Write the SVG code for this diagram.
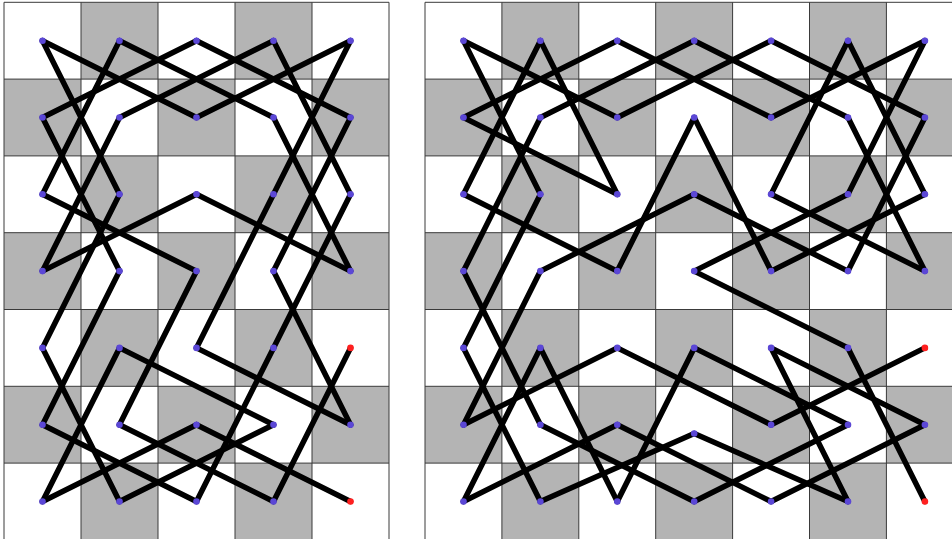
<svg xmlns="http://www.w3.org/2000/svg" width="952" height="539" viewBox="0 0 952 539">
<style>
.sq{fill:#b4b4b4}
.gl{stroke:#3a3a3a;stroke-width:1;fill:none}
.e{stroke:#000;stroke-width:5.5;stroke-linecap:round}
.d{fill:#5b47d6}
.s{fill:#ff1f1f}
</style>
<defs>
<rect id="cl" width="77" height="76.8" class="sq"/>
<rect id="cr" width="76.9" height="76.8" class="sq"/>
</defs>
<rect x="0" y="0" width="952" height="539" fill="#fff"/>
<g id="board-left">
<use href="#cl" x="81" y="2.3"/><use href="#cl" x="235" y="2.3"/>
<use href="#cl" x="4" y="79.1"/><use href="#cl" x="158" y="79.1"/><use href="#cl" x="312" y="79.1"/>
<use href="#cl" x="81" y="155.9"/><use href="#cl" x="235" y="155.9"/>
<use href="#cl" x="4" y="232.7"/><use href="#cl" x="158" y="232.7"/><use href="#cl" x="312" y="232.7"/>
<use href="#cl" x="81" y="309.5"/><use href="#cl" x="235" y="309.5"/>
<use href="#cl" x="4" y="386.3"/><use href="#cl" x="158" y="386.3"/><use href="#cl" x="312" y="386.3"/>
<use href="#cl" x="81" y="463.1"/><use href="#cl" x="235" y="463.1"/>
<path class="gl" d="M4 2.3V540M81 2.3V540M158 2.3V540M235 2.3V540M312 2.3V540M389 2.3V540M4 2.3H389M4 79.1H389M4 155.9H389M4 232.7H389M4 309.5H389M4 386.3H389M4 463.1H389"/>
</g>
<g id="board-right">
<use href="#cr" x="501.9" y="2.3"/><use href="#cr" x="655.7" y="2.3"/><use href="#cr" x="809.5" y="2.3"/>
<use href="#cr" x="425" y="79.1"/><use href="#cr" x="578.8" y="79.1"/><use href="#cr" x="732.6" y="79.1"/><use href="#cr" x="886.4" y="79.1"/>
<use href="#cr" x="501.9" y="155.9"/><use href="#cr" x="655.7" y="155.9"/><use href="#cr" x="809.5" y="155.9"/>
<use href="#cr" x="425" y="232.7"/><use href="#cr" x="578.8" y="232.7"/><use href="#cr" x="732.6" y="232.7"/><use href="#cr" x="886.4" y="232.7"/>
<use href="#cr" x="501.9" y="309.5"/><use href="#cr" x="655.7" y="309.5"/><use href="#cr" x="809.5" y="309.5"/>
<use href="#cr" x="425" y="386.3"/><use href="#cr" x="578.8" y="386.3"/><use href="#cr" x="732.6" y="386.3"/><use href="#cr" x="886.4" y="386.3"/>
<use href="#cr" x="501.9" y="463.1"/><use href="#cr" x="655.7" y="463.1"/><use href="#cr" x="809.5" y="463.1"/>
<path class="gl" d="M425 2.3V540M501.9 2.3V540M578.8 2.3V540M655.7 2.3V540M732.6 2.3V540M809.5 2.3V540M886.4 2.3V540M425 2.3H963M425 79.1H963M425 155.9H963M425 232.7H963M425 309.5H963M425 386.3H963M425 463.1H963"/>
</g>
<g id="connectors">
<line class="e" x1="350.5" y1="347.9" x2="273.5" y2="501.5"/>
<line class="e" x1="273.5" y1="501.5" x2="119.5" y2="424.7"/>
<line class="e" x1="119.5" y1="424.7" x2="196.5" y2="271.1"/>
<line class="e" x1="196.5" y1="271.1" x2="42.5" y2="194.3"/>
<line class="e" x1="42.5" y1="194.3" x2="119.5" y2="40.7"/>
<line class="e" x1="119.5" y1="40.7" x2="273.5" y2="117.5"/>
<line class="e" x1="273.5" y1="117.5" x2="350.5" y2="271.1"/>
<line class="e" x1="350.5" y1="271.1" x2="196.5" y2="194.3"/>
<line class="e" x1="196.5" y1="194.3" x2="42.5" y2="271.1"/>
<line class="e" x1="42.5" y1="271.1" x2="119.5" y2="117.5"/>
<line class="e" x1="119.5" y1="117.5" x2="273.5" y2="40.7"/>
<line class="e" x1="273.5" y1="40.7" x2="350.5" y2="194.3"/>
<line class="e" x1="350.5" y1="194.3" x2="273.5" y2="347.9"/>
<line class="e" x1="273.5" y1="347.9" x2="196.5" y2="501.5"/>
<line class="e" x1="196.5" y1="501.5" x2="42.5" y2="424.7"/>
<line class="e" x1="42.5" y1="424.7" x2="119.5" y2="271.1"/>
<line class="e" x1="119.5" y1="271.1" x2="42.5" y2="117.5"/>
<line class="e" x1="42.5" y1="117.5" x2="196.5" y2="40.7"/>
<line class="e" x1="196.5" y1="40.7" x2="350.5" y2="117.5"/>
<line class="e" x1="350.5" y1="117.5" x2="273.5" y2="271.1"/>
<line class="e" x1="273.5" y1="271.1" x2="350.5" y2="424.7"/>
<line class="e" x1="350.5" y1="424.7" x2="196.5" y2="347.9"/>
<line class="e" x1="196.5" y1="347.9" x2="273.5" y2="194.3"/>
<line class="e" x1="273.5" y1="194.3" x2="350.5" y2="40.7"/>
<line class="e" x1="350.5" y1="40.7" x2="196.5" y2="117.5"/>
<line class="e" x1="196.5" y1="117.5" x2="42.5" y2="40.7"/>
<line class="e" x1="42.5" y1="40.7" x2="119.5" y2="194.3"/>
<line class="e" x1="119.5" y1="194.3" x2="42.5" y2="347.9"/>
<line class="e" x1="42.5" y1="347.9" x2="119.5" y2="501.5"/>
<line class="e" x1="119.5" y1="501.5" x2="273.5" y2="424.7"/>
<line class="e" x1="273.5" y1="424.7" x2="119.5" y2="347.9"/>
<line class="e" x1="119.5" y1="347.9" x2="42.5" y2="501.5"/>
<line class="e" x1="42.5" y1="501.5" x2="196.5" y2="424.7"/>
<line class="e" x1="196.5" y1="424.7" x2="350.5" y2="501.5"/>

<line class="e" x1="924.9" y1="347.9" x2="771.1" y2="424.7"/>
<line class="e" x1="771.1" y1="424.7" x2="617.3" y2="347.9"/>
<line class="e" x1="617.3" y1="347.9" x2="463.5" y2="424.7"/>
<line class="e" x1="463.5" y1="424.7" x2="540.4" y2="271.1"/>
<line class="e" x1="540.4" y1="271.1" x2="694.2" y2="194.3"/>
<line class="e" x1="694.2" y1="194.3" x2="848" y2="271.1"/>
<line class="e" x1="848" y1="271.1" x2="924.9" y2="117.5"/>
<line class="e" x1="924.9" y1="117.5" x2="771.1" y2="40.7"/>
<line class="e" x1="771.1" y1="40.7" x2="617.3" y2="117.5"/>
<line class="e" x1="617.3" y1="117.5" x2="463.5" y2="40.7"/>
<line class="e" x1="463.5" y1="40.7" x2="540.4" y2="194.3"/>
<line class="e" x1="540.4" y1="194.3" x2="463.5" y2="347.9"/>
<line class="e" x1="463.5" y1="347.9" x2="540.4" y2="501.5"/>
<line class="e" x1="540.4" y1="501.5" x2="694.2" y2="433.5"/>
<line class="e" x1="694.2" y1="433.5" x2="848" y2="501.5"/>
<line class="e" x1="848" y1="501.5" x2="771.1" y2="347.9"/>
<line class="e" x1="771.1" y1="347.9" x2="924.9" y2="424.7"/>
<line class="e" x1="924.9" y1="424.7" x2="771.1" y2="501.5"/>
<line class="e" x1="771.1" y1="501.5" x2="617.3" y2="424.7"/>
<line class="e" x1="617.3" y1="424.7" x2="463.5" y2="501.5"/>
<line class="e" x1="463.5" y1="501.5" x2="540.4" y2="347.9"/>
<line class="e" x1="540.4" y1="347.9" x2="617.3" y2="501.5"/>
<line class="e" x1="617.3" y1="501.5" x2="694.2" y2="347.9"/>
<line class="e" x1="694.2" y1="347.9" x2="848" y2="424.7"/>
<line class="e" x1="848" y1="424.7" x2="694.2" y2="501.5"/>
<line class="e" x1="694.2" y1="501.5" x2="540.4" y2="424.7"/>
<line class="e" x1="540.4" y1="424.7" x2="463.5" y2="271.1"/>
<line class="e" x1="463.5" y1="271.1" x2="540.4" y2="117.5"/>
<line class="e" x1="540.4" y1="117.5" x2="694.2" y2="40.7"/>
<line class="e" x1="694.2" y1="40.7" x2="848" y2="117.5"/>
<line class="e" x1="848" y1="117.5" x2="924.9" y2="271.1"/>
<line class="e" x1="924.9" y1="271.1" x2="771.1" y2="194.3"/>
<line class="e" x1="771.1" y1="194.3" x2="848" y2="40.7"/>
<line class="e" x1="848" y1="40.7" x2="924.9" y2="194.3"/>
<line class="e" x1="924.9" y1="194.3" x2="771.1" y2="271.1"/>
<line class="e" x1="771.1" y1="271.1" x2="694.2" y2="117.5"/>
<line class="e" x1="694.2" y1="117.5" x2="617.3" y2="271.1"/>
<line class="e" x1="617.3" y1="271.1" x2="463.5" y2="194.3"/>
<line class="e" x1="463.5" y1="194.3" x2="540.4" y2="40.7"/>
<line class="e" x1="540.4" y1="40.7" x2="617.3" y2="194.3"/>
<line class="e" x1="617.3" y1="194.3" x2="463.5" y2="117.5"/>
<line class="e" x1="463.5" y1="117.5" x2="617.3" y2="40.7"/>
<line class="e" x1="617.3" y1="40.7" x2="771.1" y2="117.5"/>
<line class="e" x1="771.1" y1="117.5" x2="924.9" y2="40.7"/>
<line class="e" x1="924.9" y1="40.7" x2="848" y2="194.3"/>
<line class="e" x1="848" y1="194.3" x2="694.2" y2="271.1"/>
<line class="e" x1="694.2" y1="271.1" x2="848" y2="347.9"/>
<line class="e" x1="848" y1="347.9" x2="924.9" y2="501.5"/>
</g>
<g id="L00"><circle class="d" cx="42.5" cy="40.7" r="3.3"/></g>
<g id="L10"><circle class="d" cx="119.5" cy="40.7" r="3.3"/></g>
<g id="L20"><circle class="d" cx="196.5" cy="40.7" r="3.3"/></g>
<g id="L30"><circle class="d" cx="273.5" cy="40.7" r="3.3"/></g>
<g id="L40"><circle class="d" cx="350.5" cy="40.7" r="3.3"/></g>
<g id="L01"><circle class="d" cx="42.5" cy="117.5" r="3.3"/></g>
<g id="L11"><circle class="d" cx="119.5" cy="117.5" r="3.3"/></g>
<g id="L21"><circle class="d" cx="196.5" cy="117.5" r="3.3"/></g>
<g id="L31"><circle class="d" cx="273.5" cy="117.5" r="3.3"/></g>
<g id="L41"><circle class="d" cx="350.5" cy="117.5" r="3.3"/></g>
<g id="L02"><circle class="d" cx="42.5" cy="194.3" r="3.3"/></g>
<g id="L12"><circle class="d" cx="119.5" cy="194.3" r="3.3"/></g>
<g id="L22"><circle class="d" cx="196.5" cy="194.3" r="3.3"/></g>
<g id="L32"><circle class="d" cx="273.5" cy="194.3" r="3.3"/></g>
<g id="L42"><circle class="d" cx="350.5" cy="194.3" r="3.3"/></g>
<g id="L03"><circle class="d" cx="42.5" cy="271.1" r="3.3"/></g>
<g id="L13"><circle class="d" cx="119.5" cy="271.1" r="3.3"/></g>
<g id="L23"><circle class="d" cx="196.5" cy="271.1" r="3.3"/></g>
<g id="L33"><circle class="d" cx="273.5" cy="271.1" r="3.3"/></g>
<g id="L43"><circle class="d" cx="350.5" cy="271.1" r="3.3"/></g>
<g id="L04"><circle class="d" cx="42.5" cy="347.9" r="3.3"/></g>
<g id="L14"><circle class="d" cx="119.5" cy="347.9" r="3.3"/></g>
<g id="L24"><circle class="d" cx="196.5" cy="347.9" r="3.3"/></g>
<g id="L34"><circle class="d" cx="273.5" cy="347.9" r="3.3"/></g>
<g id="L44"><circle class="s" cx="350.5" cy="347.9" r="3.3"/></g>
<g id="L05"><circle class="d" cx="42.5" cy="424.7" r="3.3"/></g>
<g id="L15"><circle class="d" cx="119.5" cy="424.7" r="3.3"/></g>
<g id="L25"><circle class="d" cx="196.5" cy="424.7" r="3.3"/></g>
<g id="L35"><circle class="d" cx="273.5" cy="424.7" r="3.3"/></g>
<g id="L45"><circle class="d" cx="350.5" cy="424.7" r="3.3"/></g>
<g id="L06"><circle class="d" cx="42.5" cy="501.5" r="3.3"/></g>
<g id="L16"><circle class="d" cx="119.5" cy="501.5" r="3.3"/></g>
<g id="L26"><circle class="d" cx="196.5" cy="501.5" r="3.3"/></g>
<g id="L36"><circle class="d" cx="273.5" cy="501.5" r="3.3"/></g>
<g id="L46"><circle class="s" cx="350.5" cy="501.5" r="3.3"/></g>
<g id="R00"><circle class="d" cx="463.5" cy="40.7" r="3.3"/></g>
<g id="R10"><circle class="d" cx="540.4" cy="40.7" r="3.3"/></g>
<g id="R20"><circle class="d" cx="617.3" cy="40.7" r="3.3"/></g>
<g id="R30"><circle class="d" cx="694.2" cy="40.7" r="3.3"/></g>
<g id="R40"><circle class="d" cx="771.1" cy="40.7" r="3.3"/></g>
<g id="R50"><circle class="d" cx="848" cy="40.7" r="3.3"/></g>
<g id="R60"><circle class="d" cx="924.9" cy="40.7" r="3.3"/></g>
<g id="R01"><circle class="d" cx="463.5" cy="117.5" r="3.3"/></g>
<g id="R11"><circle class="d" cx="540.4" cy="117.5" r="3.3"/></g>
<g id="R21"><circle class="d" cx="617.3" cy="117.5" r="3.3"/></g>
<g id="R31"><circle class="d" cx="694.2" cy="117.5" r="3.3"/></g>
<g id="R41"><circle class="d" cx="771.1" cy="117.5" r="3.3"/></g>
<g id="R51"><circle class="d" cx="848" cy="117.5" r="3.3"/></g>
<g id="R61"><circle class="d" cx="924.9" cy="117.5" r="3.3"/></g>
<g id="R02"><circle class="d" cx="463.5" cy="194.3" r="3.3"/></g>
<g id="R12"><circle class="d" cx="540.4" cy="194.3" r="3.3"/></g>
<g id="R22"><circle class="d" cx="617.3" cy="194.3" r="3.3"/></g>
<g id="R32"><circle class="d" cx="694.2" cy="194.3" r="3.3"/></g>
<g id="R42"><circle class="d" cx="771.1" cy="194.3" r="3.3"/></g>
<g id="R52"><circle class="d" cx="848" cy="194.3" r="3.3"/></g>
<g id="R62"><circle class="d" cx="924.9" cy="194.3" r="3.3"/></g>
<g id="R03"><circle class="d" cx="463.5" cy="271.1" r="3.3"/></g>
<g id="R13"><circle class="d" cx="540.4" cy="271.1" r="3.3"/></g>
<g id="R23"><circle class="d" cx="617.3" cy="271.1" r="3.3"/></g>
<g id="R33"><circle class="d" cx="694.2" cy="271.1" r="3.3"/></g>
<g id="R43"><circle class="d" cx="771.1" cy="271.1" r="3.3"/></g>
<g id="R53"><circle class="d" cx="848" cy="271.1" r="3.3"/></g>
<g id="R63"><circle class="d" cx="924.9" cy="271.1" r="3.3"/></g>
<g id="R04"><circle class="d" cx="463.5" cy="347.9" r="3.3"/></g>
<g id="R14"><circle class="d" cx="540.4" cy="347.9" r="3.3"/></g>
<g id="R24"><circle class="d" cx="617.3" cy="347.9" r="3.3"/></g>
<g id="R34"><circle class="d" cx="694.2" cy="347.9" r="3.3"/></g>
<g id="R44"><circle class="d" cx="771.1" cy="347.9" r="3.3"/></g>
<g id="R54"><circle class="d" cx="848" cy="347.9" r="3.3"/></g>
<g id="R64"><circle class="s" cx="924.9" cy="347.9" r="3.3"/></g>
<g id="R05"><circle class="d" cx="463.5" cy="424.7" r="3.3"/></g>
<g id="R15"><circle class="d" cx="540.4" cy="424.7" r="3.3"/></g>
<g id="R25"><circle class="d" cx="617.3" cy="424.7" r="3.3"/></g>
<g id="R35"><circle class="d" cx="694.2" cy="433.5" r="3.3"/></g>
<g id="R45"><circle class="d" cx="771.1" cy="424.7" r="3.3"/></g>
<g id="R55"><circle class="d" cx="848" cy="424.7" r="3.3"/></g>
<g id="R65"><circle class="d" cx="924.9" cy="424.7" r="3.3"/></g>
<g id="R06"><circle class="d" cx="463.5" cy="501.5" r="3.3"/></g>
<g id="R16"><circle class="d" cx="540.4" cy="501.5" r="3.3"/></g>
<g id="R26"><circle class="d" cx="617.3" cy="501.5" r="3.3"/></g>
<g id="R36"><circle class="d" cx="694.2" cy="501.5" r="3.3"/></g>
<g id="R46"><circle class="d" cx="771.1" cy="501.5" r="3.3"/></g>
<g id="R56"><circle class="d" cx="848" cy="501.5" r="3.3"/></g>
<g id="R66"><circle class="s" cx="924.9" cy="501.5" r="3.3"/></g>
</svg>
